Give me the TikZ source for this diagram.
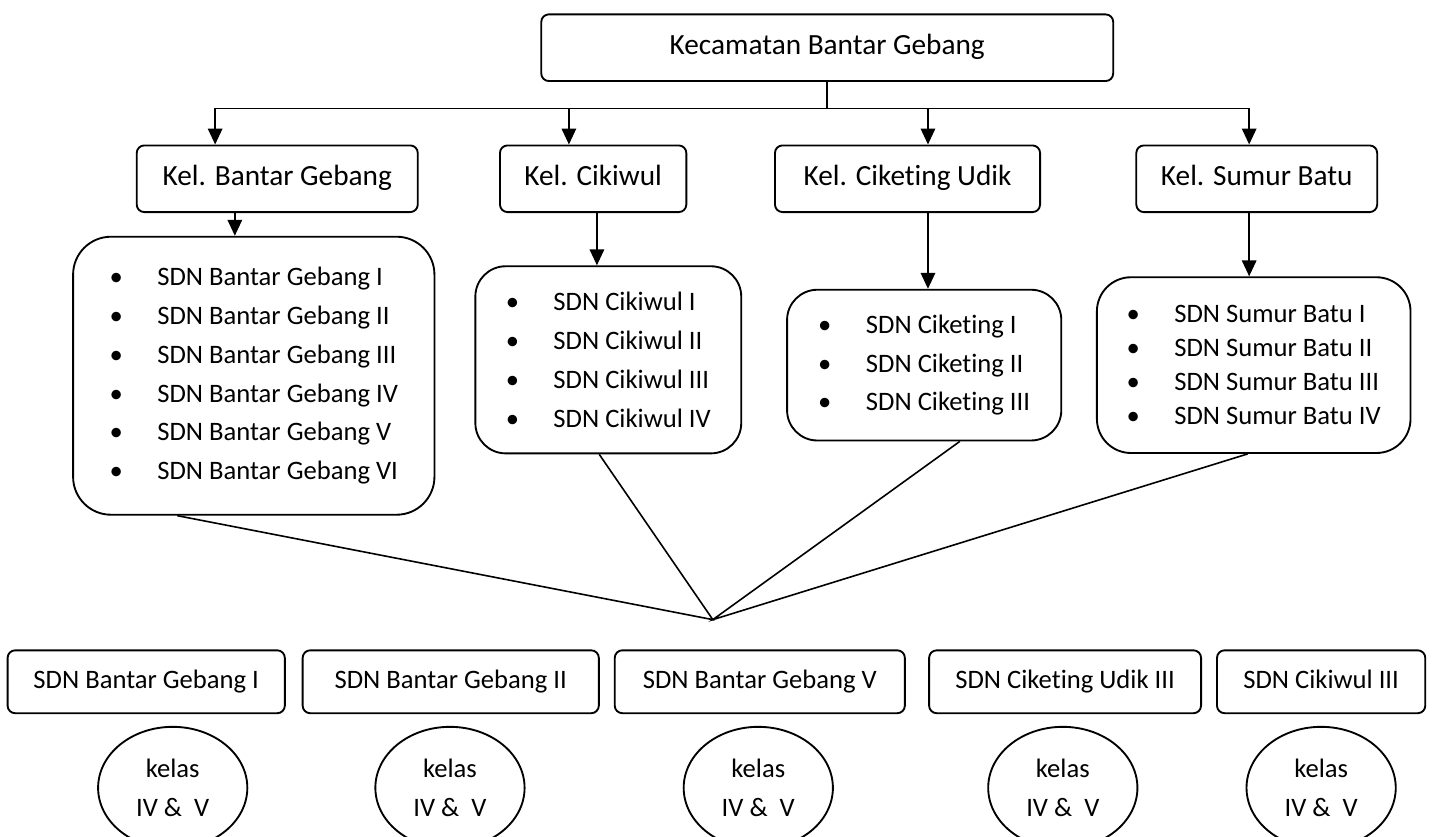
\documentclass[tikz,border=0pt]{standalone}
\usepackage{fontspec}
\setmainfont[Ligatures={NoCommon}]{Carlito}
\usetikzlibrary{arrows.meta,shapes.geometric}
\newcommand{\butir}[1]{\makebox[0.63cm][l]{\textbullet}#1}

\tikzset{
	unit/.style={draw, rounded corners=0.1cm, line width=0.7pt, inner sep=0pt, minimum height=0.88cm, text height=0.7em, text depth=0.2em, font=\fontsize{11}{13}\selectfont},
	school/.style={unit, minimum height=0.83cm, font=\fontsize{10}{12}\selectfont},
	listbox/.style={draw, line width=0.7pt, inner sep=0pt, align=left, font=\fontsize{10}{14.6}\selectfont},
	classnode/.style={draw, ellipse, line width=0.7pt, inner sep=0pt, minimum width=1.97cm, minimum height=1.61cm, align=center, font=\fontsize{10}{14.3}\selectfont},
	arr/.style={line width=0.7pt, -{Triangle[length=0.21cm,width=0.19cm]}},
	link/.style={line width=0.6pt}
}

\begin{document}
\begin{tikzpicture}
		%%%%% START %%%%%
		\useasboundingbox (0,0) rectangle (18.93,-11.04);
		
		\node[unit, minimum width=7.55cm] (kec) at (10.92,-0.63) {Kecamatan Bantar Gebang};
		
		\node[unit, minimum width=3.71cm] (kbg) at (3.66,-2.36) {Kel. Bantar Gebang};
		\node[unit, minimum width=2.46cm] (kck) at (7.83,-2.36) {Kel. Cikiwul};
		\node[unit, minimum width=3.50cm] (kcu) at (11.98,-2.36) {Kel. Ciketing Udik};
		\node[unit, minimum width=3.18cm] (ksb) at (16.59,-2.36) {Kel. Sumur Batu};
		
		\node[listbox, rounded corners=0.5cm, minimum width=4.77cm, minimum height=3.67cm] (lbg) at (3.35,-4.96)
			{\butir{SDN Bantar Gebang I}\\ \butir{SDN Bantar Gebang II}\\ \butir{SDN Bantar Gebang III}\\
			 \butir{SDN Bantar Gebang IV}\\ \butir{SDN Bantar Gebang V}\\ \butir{SDN Bantar Gebang VI}};
		\node[listbox, rounded corners=0.4cm, minimum width=3.51cm, minimum height=2.47cm] (lck) at (8.03,-4.75)
			{\butir{SDN Cikiwul I}\\ \butir{SDN Cikiwul II}\\ \butir{SDN Cikiwul III}\\ \butir{SDN Cikiwul IV}};
		\node[listbox, rounded corners=0.4cm, minimum width=3.62cm, minimum height=1.99cm] (lcu) at (12.20,-4.82)
			{\butir{SDN Ciketing I}\\ \butir{SDN Ciketing II}\\ \butir{SDN Ciketing III}};
		\node[listbox, rounded corners=0.45cm, minimum width=4.14cm, minimum height=2.32cm, font=\fontsize{10}{12.8}\selectfont] (lsb) at (16.55,-4.82)
			{\butir{SDN Sumur Batu I}\\ \butir{SDN Sumur Batu II}\\ \butir{SDN Sumur Batu III}\\ \butir{SDN Sumur Batu IV}};
		
		% cabang dari kecamatan
		\coordinate (b1) at (2.84,-1.43);
		\coordinate (b2) at (7.51,-1.43);
		\coordinate (b3) at (12.25,-1.43);
		\coordinate (b4) at (16.49,-1.43);
		\draw[link] (kec.south) -- (kec.south |- b1);
		\draw[link] (b1) -- (b4);
		\draw[arr] (b1) -- (b1 |- kbg.north);
		\draw[arr] (b2) -- (b2 |- kck.north);
		\draw[arr] (b3) -- (b3 |- kcu.north);
		\draw[arr] (b4) -- (b4 |- ksb.north);
		
		\coordinate (a1) at (3.10,0);
		\coordinate (a2) at (7.88,0);
		\draw[arr] (a1 |- kbg.south) -- (a1 |- lbg.north);
		\draw[arr] (a2 |- kck.south) -- (a2 |- lck.north);
		\draw[arr] (b3 |- kcu.south) -- (b3 |- lcu.north);
		\draw[arr] (b4 |- ksb.south) -- (b4 |- lsb.north);
		
		% garis ke titik temu
		\coordinate (hub) at (9.41,-8.18);
		\coordinate (c1) at (2.34,0);
		\coordinate (c2) at (7.91,0);
		\coordinate (c3) at (12.67,0);
		\coordinate (c4) at (16.47,0);
		\draw[link] (c1 |- lbg.south) -- (hub) -- (c2 |- lck.south);
		\draw[link] (c3 |- lcu.south) -- (hub) -- (c4 |- lsb.south);
		
		\node[school, minimum width=3.66cm] (s1) at (1.93,-9.00) {SDN Bantar Gebang I};
		\node[school, minimum width=3.91cm] (s2) at (5.95,-9.00) {SDN Bantar Gebang II};
		\node[school, minimum width=3.83cm] (s3) at (10.03,-9.00) {SDN Bantar Gebang V};
		\node[school, minimum width=3.59cm] (s4) at (14.06,-9.00) {SDN Ciketing Udik III};
		\node[school, minimum width=2.75cm] (s5) at (17.44,-9.00) {SDN Cikiwul III};
		
		\foreach \x/\n in {2.28/k1, 5.94/k2, 10.01/k3, 14.03/k4, 17.44/k5}
			\node[classnode] (\n) at (\x,-10.40) {kelas\\IV \&\ \ V};
		
		%%%%% END %%%%%
\end{tikzpicture}
\end{document}
